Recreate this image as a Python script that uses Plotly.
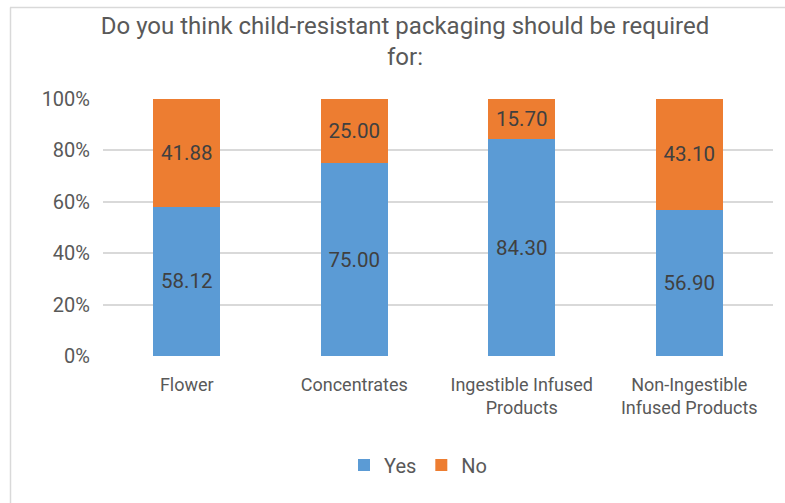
import plotly.graph_objects as go

# Survey responses (percent of respondents)
categories = ["Flower", "Concentrates", "Ingestible Infused<br>Products",
              "Non-Ingestible<br>Infused Products"]
yes_values = [58.12, 75.00, 84.30, 56.90]
no_values = [41.88, 25.00, 15.70, 43.10]
y_ticks = [0, 20, 40, 60, 80, 100]
y_tick_labels = ["0%", "20%", "40%", "60%", "80%", "100%"]

FONT = "Roboto, Arial, sans-serif"
TEXT = "#595959"

fig = go.Figure()
fig.add_trace(go.Bar(
    x=categories, y=yes_values, name="Yes",
    marker=dict(color="#5B9BD5", line=dict(width=0)),
    text=[f"{v:.2f}" for v in yes_values], textposition="inside",
    insidetextanchor="middle", textangle=0,
    textfont=dict(size=20.5, color="#404040", family=FONT),
))
fig.add_trace(go.Bar(
    x=categories, y=no_values, name="No",
    marker=dict(color="#ED7D31", line=dict(width=0)),
    text=[f"{v:.2f}" for v in no_values], textposition="inside",
    insidetextanchor="middle", textangle=0,
    textfont=dict(size=20.5, color="#404040", family=FONT),
))

L, R, T, B = 103, 12, 99, 147
W, H = 785, 503
pw, ph = W - L - R, H - T - B

def px_x(p):
    return (p - L) / pw

def px_y(p):
    return (H - B - p) / ph

fig.update_layout(
    width=W, height=H,
    margin=dict(l=L, r=R, t=T, b=B),
    paper_bgcolor="white", plot_bgcolor="white",
    barmode="stack", bargap=0.6,
    font=dict(family=FONT, color=TEXT),
    title=dict(
        text="Do you think child-resistant packaging should be required<br>for:",
        x=px_x(405), xref="paper", xanchor="center",
        y=1 - 34 / H, yref="container", yanchor="middle",
        font=dict(size=24, color=TEXT, family=FONT),
    ),
    xaxis=dict(showgrid=False, showline=False, ticks="",
               tickfont=dict(size=18, color=TEXT), ticklabelstandoff=16),
    yaxis=dict(range=[0, 100], tickvals=y_ticks, ticktext=y_tick_labels,
               showgrid=True, gridcolor="#d9d9d9", gridwidth=1.5,
               zeroline=False, showline=False, ticks="",
               tickfont=dict(size=20, color=TEXT), ticklabelstandoff=12),
    legend=dict(orientation="h", x=px_x(418), xanchor="center",
                y=px_y(465), yanchor="middle",
                font=dict(size=20, color=TEXT), itemwidth=30,
                traceorder="normal"),
    uniformtext=dict(mode=False),
    shapes=[
        dict(type="line", xref="paper", yref="paper",
             x0=px_x(10), x1=px_x(790), y0=px_y(7.5), y1=px_y(7.5),
             line=dict(color="#d9d9d9", width=1.5)),
        dict(type="line", xref="paper", yref="paper",
             x0=px_x(10.5), x1=px_x(10.5), y0=px_y(7.5), y1=px_y(510),
             line=dict(color="#d9d9d9", width=1.5)),
    ],
)

fig.write_html("out.html")
